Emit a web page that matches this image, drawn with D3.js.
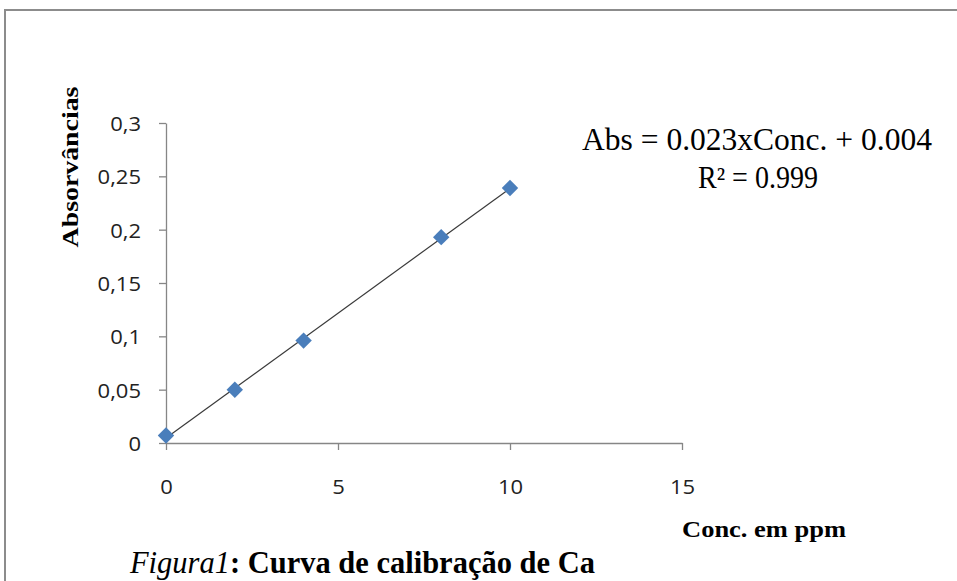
<!DOCTYPE html>
<html>
<head>
<meta charset="utf-8">
<script src="https://cdn.jsdelivr.net/npm/d3@7"></script>
<style>
  body { margin: 0; background: #fff; }
  svg { display: block; }
</style>
</head>
<body>
<div id="chart"></div>
<script>
// data
var conc = [0, 2, 4, 8, 10];
var abs = [0.007, 0.05, 0.096, 0.193, 0.239];
var xTicks = [0, 5, 10, 15];
var yTicks = [0, 0.05, 0.1, 0.15, 0.2, 0.25, 0.3];
var yTickLabels = ['0', '0,05', '0,1', '0,15', '0,2', '0,25', '0,3'];
var eqLines = ['Abs = 0.023xConc. + 0.004', 'R² = 0.999'];

var width = 957, height = 581;

var svg = d3.select('#chart').append('svg')
    .attr('width', width)
    .attr('height', height);

// stretch a text horizontally so it covers the wanted width
function fitWidth(sel, target) {
    var w = sel.node().getComputedTextLength();
    return target / w;
}

// grey frame (runs off the right and bottom)
svg.append('path')
    .attr('d', 'M5,' + height + 'V10H' + width)
    .attr('fill', 'none')
    .attr('stroke', '#8c8c8c')
    .attr('stroke-width', 2);

var x = d3.scaleLinear().domain([0, 15]).range([166, 682]);
var y = d3.scaleLinear().domain([0, 0.3]).range([443, 123]);

var axisColor = '#868686';
var tickFont = '"Open Sans", Lato, sans-serif';

var xAxis = svg.append('g')
    .attr('transform', 'translate(0,' + y(0) + ')')
    .call(d3.axisBottom(x).tickValues(xTicks).tickSizeInner(7).tickSizeOuter(0).tickPadding(30));

var yAxis = svg.append('g')
    .attr('transform', 'translate(' + x(0) + ',0)')
    .call(d3.axisLeft(y).tickValues(yTicks)
        .tickFormat(function(d, i) { return yTickLabels[i]; })
        .tickSizeInner(7).tickSizeOuter(0));

[xAxis, yAxis].forEach(function(a) {
    a.select('.domain').attr('stroke', axisColor).attr('stroke-width', 1.3);
    a.selectAll('.tick line').attr('stroke', axisColor).attr('stroke-width', 1.3);
    a.selectAll('.tick text')
        .attr('fill', '#222')
        .style('font-family', tickFont)
        .style('font-size', '20px');
});
xAxis.selectAll('.tick text').attr('transform', 'scale(1.1,1)');
yAxis.selectAll('.tick text')
    .attr('x', 0)
    .attr('dy', '0.38em')
    .attr('transform', 'translate(-25,0) scale(1.1,1)');

// least squares trend line
var mx = d3.mean(conc), my = d3.mean(abs);
var sxy = d3.sum(conc, function(c, i) { return (c - mx) * (abs[i] - my); });
var sxx = d3.sum(conc, function(c) { return (c - mx) * (c - mx); });
var slope = sxy / sxx, icpt = my - slope * mx;
var xMin = d3.min(conc), xMax = d3.max(conc);

svg.append('line')
    .attr('x1', x(xMin)).attr('y1', y(icpt + slope * xMin))
    .attr('x2', x(xMax)).attr('y2', y(icpt + slope * xMax))
    .attr('stroke', '#3a3a3a')
    .attr('stroke-width', 1.2);

// diamonds
var diamond = d3.symbol().type(d3.symbolSquare).size(135);
svg.selectAll('.pt')
    .data(conc)
    .enter()
    .append('path')
    .attr('class', 'pt')
    .attr('d', diamond)
    .attr('fill', '#4a7ebb')
    .attr('transform', function(c, i) {
        return 'translate(' + x(c) + ',' + y(abs[i]) + ') rotate(45)';
    });

var serif = '"Liberation Serif", "Times New Roman", serif';

// axis titles
var yTitle = svg.append('text')
    .attr('text-anchor', 'middle')
    .style('font-family', serif)
    .style('font-weight', 'bold')
    .style('font-size', '23px')
    .text('Absorvâncias');
yTitle.attr('transform', 'translate(78,167) rotate(-90) scale(' + fitWidth(yTitle, 161) + ',1)');

var xTitle = svg.append('text')
    .attr('text-anchor', 'middle')
    .style('font-family', serif)
    .style('font-weight', 'bold')
    .style('font-size', '24px')
    .text('Conc. em ppm');
xTitle.attr('transform', 'translate(764,537) scale(' + fitWidth(xTitle, 164) + ',1)');

// regression equation
var eqPos = [[757, 150, 350], [758, 188, 120]];
eqLines.forEach(function(line, i) {
    var t = svg.append('text')
        .attr('text-anchor', 'middle')
        .style('font-family', serif)
        .style('font-size', '31px')
        .text(line);
    t.attr('transform', 'translate(' + eqPos[i][0] + ',' + eqPos[i][1] + ') scale(' + fitWidth(t, eqPos[i][2]) + ',1)');
});

// caption
var cap = svg.append('text')
    .style('font-family', serif)
    .style('font-size', '32px');
cap.append('tspan').style('font-style', 'italic').text('Figura1');
cap.append('tspan').style('font-weight', 'bold').text(': Curva de calibração de Ca');
cap.attr('transform', 'translate(130,573) scale(' + fitWidth(cap, 465) + ',1)');
</script>
</body>
</html>
